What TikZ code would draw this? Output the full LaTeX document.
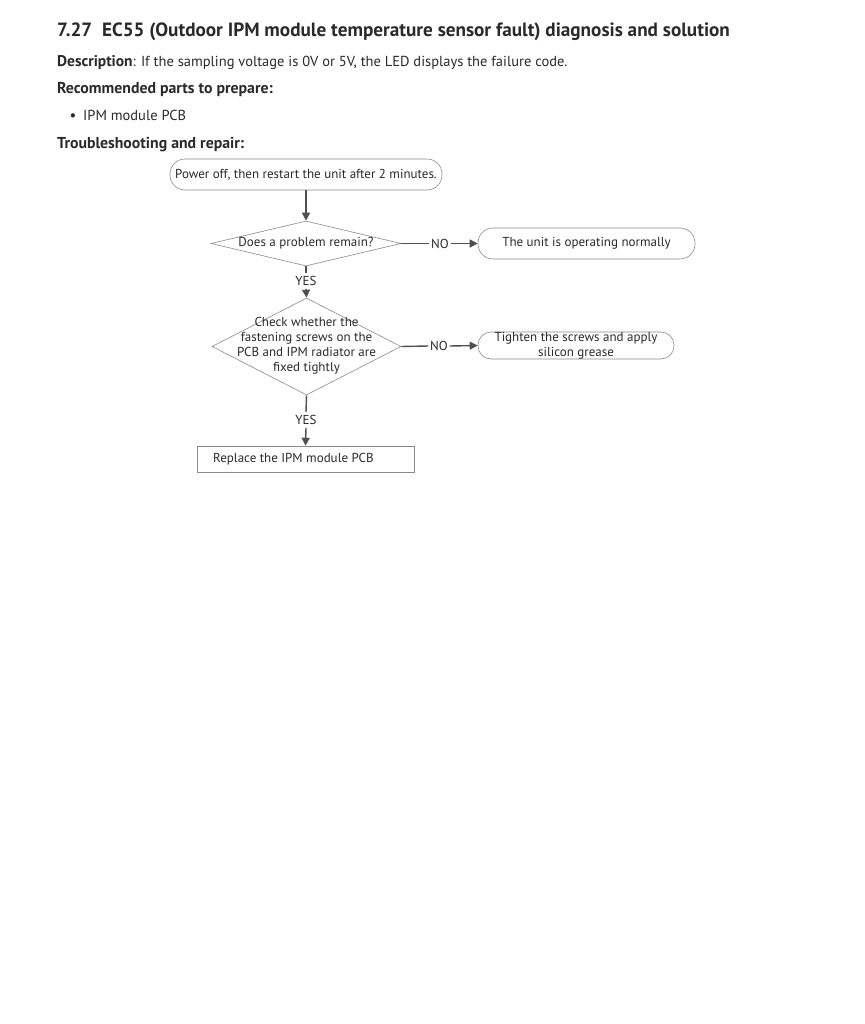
\documentclass[tikz,border=0pt]{standalone}
\usepackage{fontspec}
\setmainfont{PT Sans}
\usetikzlibrary{shapes.geometric,arrows.meta}
\definecolor{txt}{HTML}{2A2A2A}
\definecolor{edge}{HTML}{8A8A8A}
\definecolor{conn}{HTML}{505050}
\begin{document}
\begin{tikzpicture}[x=1pt,y=-1pt,
  hdr/.style={anchor=base west,inner sep=0,text=txt},
  fc/.style={font=\fontsize{13}{15}\selectfont,text=txt,inner sep=0},
  rbox/.style={draw=edge,line width=0.6pt},
  dia/.style={draw=edge,diamond,line width=0.6pt,inner sep=0},
  lbl/.style={font=\fontsize{13}{15}\selectfont,text=txt,inner xsep=1.5pt,inner ysep=3pt},
  arr/.style={draw=conn,line width=1.4pt,-{Triangle[length=8pt,width=8pt]}},
  ln/.style={draw=conn,line width=1.4pt}]
\useasboundingbox (0,0) rectangle (864,1024);
\fill[white] (0,0) rectangle (864,1024);
% header
\node[hdr,font=\fontsize{19.2}{22}\selectfont\bfseries] (title) at (57,37) {7.27\ \ EC55 (Outdoor IPM module temperature sensor fault) diagnosis and solution};
\node[hdr,font=\fontsize{14.5}{17}\selectfont] (desc) at (57,67) {{\fontsize{15.5}{17}\selectfont\bfseries Description}: If the sampling voltage is 0V or 5V, the LED displays the failure code.};
\node[hdr,font=\fontsize{15.8}{17}\selectfont\bfseries] (rec) at (57,94) {Recommended parts to prepare:};
\node[hdr,font=\fontsize{15}{17}\selectfont] (bul) at (69.5,121) {•};
\node[hdr,font=\fontsize{14.5}{17}\selectfont] (part) at (83,121) {IPM module PCB};
\node[hdr,font=\fontsize{15.8}{17}\selectfont\bfseries] (trb) at (57,149) {Troubleshooting and repair:};
% flowchart
\node[rbox,fc,minimum width=272pt,minimum height=31pt,rounded corners=15pt] (start) at (306,174.5) {Power off, then restart the unit after 2 minutes.};
\node[dia,minimum width=190pt,minimum height=45pt] (d1) at (306,243.5) {};
\node[fc] (d1t) at (306,243.5) {Does a problem remain?};
\node[rbox,fc,minimum width=217pt,minimum height=31pt,rounded corners=15pt] (ok) at (586.5,243.5) {The unit is operating normally};
\node[dia,minimum width=189pt,minimum height=97pt] (d2) at (306.5,346.5) {};
\node[fc,align=center] (d2t) at (306.5,346) {Check whether the\\fastening screws on the\\PCB and IPM radiator are\\fixed tightly};
\node[rbox,fc,align=center,minimum width=196pt,minimum height=27pt,rounded corners=13pt] (tight) at (576,345.5) {Tighten the screws and apply\\silicon grease};
\node[draw=edge,line width=0.6pt,minimum width=217pt,minimum height=26pt,inner sep=0] (rep) at (305.5,459) {};
\node[fc,anchor=west] (rept) at (213,459) {Replace the IPM module PCB};
% labels
\node[lbl] (no1) at (440,243.5) {NO};
\node[lbl] (yes1) at (306,281) {YES};
\node[lbl] (no2) at (439,346) {NO};
\node[lbl] (yes2) at (306,420) {YES};
% connectors
\draw[arr] (start.south) -- (d1.north);
\draw[ln] (d1.east) -- (no1.west);
\draw[arr] (no1.east) -- (ok.west);
\draw[ln] (d1.south) -- (yes1.north);
\draw[arr] (yes1.south) -- (d2.north);
\draw[ln] (d2.east) -- (no2.west);
\draw[arr] (no2.east) -- (tight.west);
\draw[ln] (d2.south) -- (yes2.north);
\draw[arr] (yes2.south) -- (rep.north);
\end{tikzpicture}
\end{document}
